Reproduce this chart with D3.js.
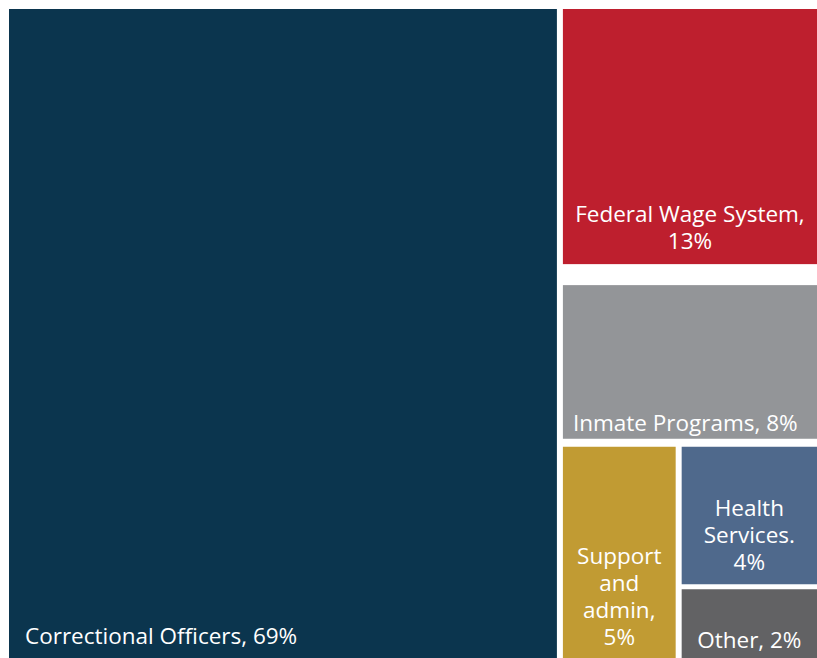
<!DOCTYPE html>
<html>
<head>
<meta charset="utf-8">
<script src="https://cdn.jsdelivr.net/npm/d3@7"></script>
<style>
    body { margin: 0; background: #fff; }
    text { font-family: "Open Sans", sans-serif; fill: #fff; }
</style>
</head>
<body>
<div id="chart"></div>
<script>
// staff shares by category (percent)
let categories = ["Correctional Officers", "Federal Wage System", "Inmate Programs", "Support and admin", "Health Services", "Other"];
let values = [69, 13, 8, 5, 4, 2];
let labelLines = [
    ["Correctional Officers, 69%"],
    ["Federal Wage System,", "13%"],
    ["Inmate Programs, 8%"],
    ["Support", "and", "admin,", "5%"],
    ["Health", "Services.", "4%"],
    ["Other, 2%"]
];
let colors = ["#0b354e", "#be1f2e", "#939598", "#c19b33", "#4f698c", "#626264"];

let w = 817;
let h = 658;
let offset = 9;

// nesting of the tiles: each group splits its box either in columns or rows, with its own gap
let data = {
    name: "root", dir: "dice", gap: 6,
    children: [
        { name: categories[0], value: values[0] },
        { name: "right", dir: "slice", gap: 21, children: [
            { name: categories[1], value: values[1] },
            { name: "rest", dir: "slice", gap: 8, children: [
                { name: categories[2], value: values[2] },
                { name: "bottom", dir: "dice", gap: 6, children: [
                    { name: categories[3], value: values[3] },
                    { name: "small", dir: "slice", gap: 5, children: [
                        { name: categories[4], value: values[4] },
                        { name: categories[5], value: values[5] }
                    ]}
                ]}
            ]}
        ]}
    ]
};

let root = d3.hierarchy(data).sum(d => d.value || 0);

// dice / slice with a fixed white gap between the children
let gapTile = (node, x0, y0, x1, y1) => {
    let kids = node.children;
    let gap = node.data.gap || 0;
    let horiz = node.data.dir === "dice";
    let span = (horiz ? x1 - x0 : y1 - y0) - gap * (kids.length - 1);
    let pos = horiz ? x0 : y0;
    kids.forEach(c => {
        let len = span * c.value / node.value;
        if (horiz) { c.x0 = pos; c.x1 = pos + len; c.y0 = y0; c.y1 = y1; }
        else { c.y0 = pos; c.y1 = pos + len; c.x0 = x0; c.x1 = x1; }
        pos += len + gap;
    });
};

d3.treemap()
    .tile(gapTile)
    .size([w - offset, h - offset])
    (root);

let color = d3.scaleOrdinal().domain(categories).range(colors);

let svg = d3.select("#chart")
            .append("svg")
            .attr("width", w)
            .attr("height", h);

let leaves = svg.append("g")
                .attr("transform", `translate(${offset}, ${offset})`)
                .selectAll(".tile")
                .data(root.leaves())
                .enter()
                .append("g")
                .attr("class", "tile");

leaves.append("rect")
    .attr("x", d => d.x0)
    .attr("y", d => d.y0)
    .attr("width", d => d.x1 - d.x0)
    .attr("height", d => d.y1 - d.y0)
    .style("fill", d => color(d.data.name));

// labels sit at the bottom of each tile, the first and third flush left
let lineH = 27;
let fontSize = 22.5;
let leftAligned = { "Correctional Officers": 16, "Inmate Programs": 10 };
let bottomGap = { "Correctional Officers": 14, "Federal Wage System": 15, "Inmate Programs": 8, "Support and admin": 13, "Health Services": 14, "Other": 10 };

leaves.each(function(d) {
    let i = categories.indexOf(d.data.name);
    let lines = labelLines[i];
    let left = leftAligned[d.data.name];
    let lastBase = d.y1 - bottomGap[d.data.name];
    let t = d3.select(this).append("text")
                .attr("font-size", fontSize + "px")
                .attr("text-anchor", left !== undefined ? "start" : "middle");
    t.selectAll("tspan")
        .data(lines)
        .enter()
        .append("tspan")
        .attr("x", left !== undefined ? d.x0 + left : (d.x0 + d.x1) / 2)
        .attr("y", (l, k) => lastBase - (lines.length - 1 - k) * lineH)
        .text(l => l);
});
</script>
</body>
</html>
